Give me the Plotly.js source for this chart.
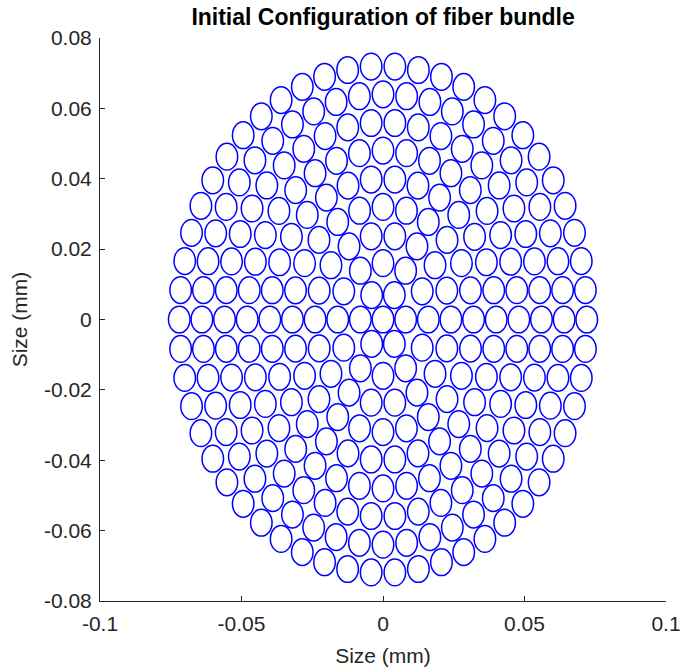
<!DOCTYPE html>
<html>
<head>
<meta charset="utf-8">
<script src="https://cdn.plot.ly/plotly-3.0.1.min.js"></script>
<style>
  html, body { margin: 0; padding: 0; background: #fff; }
  #chart { width: 683px; height: 672px; }
</style>
</head>
<body>
<div id="chart"></div>
<script>
// Fiber bundle: concentric rings of fibers
var ringRadius = [0, 0.008, 0.016, 0.024, 0.032, 0.040, 0.048, 0.056, 0.064, 0.072]; // mm
var ringCount  = [1, 6, 12, 18, 24, 30, 36, 42, 48, 54];
var ringPhase  = [0, 0, 0, 0, 0, 0, 0, 0, 0, 0]; // rad, first fiber on +x axis
var fiberRadius = 0.0038; // mm

var xTickVals = [-0.1, -0.05, 0, 0.05, 0.1];
var xTickText = ['-0.1', '-0.05', '0', '0.05', '0.1'];
var yTickVals = [-0.08, -0.06, -0.04, -0.02, 0, 0.02, 0.04, 0.06, 0.08];
var yTickText = ['-0.08', '-0.06', '-0.04', '-0.02', '0', '0.02', '0.04', '0.06', '0.08'];

var centersX = [], centersY = [];
for (var k = 0; k < ringRadius.length; k++) {
  for (var j = 0; j < ringCount[k]; j++) {
    var a = ringPhase[k] + 2 * Math.PI * j / ringCount[k];
    centersX.push(ringRadius[k] * Math.cos(a));
    centersY.push(ringRadius[k] * Math.sin(a));
  }
}

var shapes = centersX.map(function (cx, i) {
  var cy = centersY[i];
  return {
    type: 'circle', xref: 'x', yref: 'y',
    x0: cx - fiberRadius, x1: cx + fiberRadius,
    y0: cy - fiberRadius, y1: cy + fiberRadius,
    line: { color: 'rgb(0,0,255)', width: 1.5 },
    fillcolor: 'rgba(0,0,0,0)'
  };
});

var fam = 'Liberation Sans, Arial, Helvetica, sans-serif';

var layout = {
  width: 683, height: 672,
  margin: { l: 100, r: 17, t: 38, b: 71 },
  paper_bgcolor: '#fff', plot_bgcolor: '#fff',
  showlegend: false,
  title: {
    text: '<b>Initial Configuration of fiber bundle</b>',
    font: { family: fam, size: 23, color: '#000' },
    x: 0.5608, xanchor: 'center', y: 0.975, yanchor: 'middle'
  },
  xaxis: {
    range: [-0.1, 0.1], tickvals: xTickVals, ticktext: xTickText,
    showline: true, linecolor: '#262626', linewidth: 1,
    ticks: 'inside', ticklen: 5, tickcolor: '#262626',
    ticklabelstandoff: 4,
    showgrid: false, zeroline: false, mirror: false,
    tickfont: { family: fam, size: 21, color: '#262626' },
    title: { text: 'Size (mm)', font: { family: fam, size: 21, color: '#262626' }, standoff: 14 }
  },
  yaxis: {
    range: [-0.08, 0.08], tickvals: yTickVals, ticktext: yTickText,
    showline: true, linecolor: '#262626', linewidth: 1,
    ticks: 'inside', ticklen: 5, tickcolor: '#262626',
    ticklabelstandoff: 3,
    showgrid: false, zeroline: false, mirror: false,
    tickfont: { family: fam, size: 21, color: '#262626' },
    title: { text: 'Size (mm)', font: { family: fam, size: 21, color: '#262626' }, standoff: 10 }
  },
  shapes: shapes
};

var trace = { x: centersX, y: centersY, type: 'scatter', mode: 'markers',
  marker: { size: 1, opacity: 0 }, hoverinfo: 'none' };

Plotly.newPlot('chart', [trace], layout, { staticPlot: true, displayModeBar: false });
</script>
</body>
</html>
